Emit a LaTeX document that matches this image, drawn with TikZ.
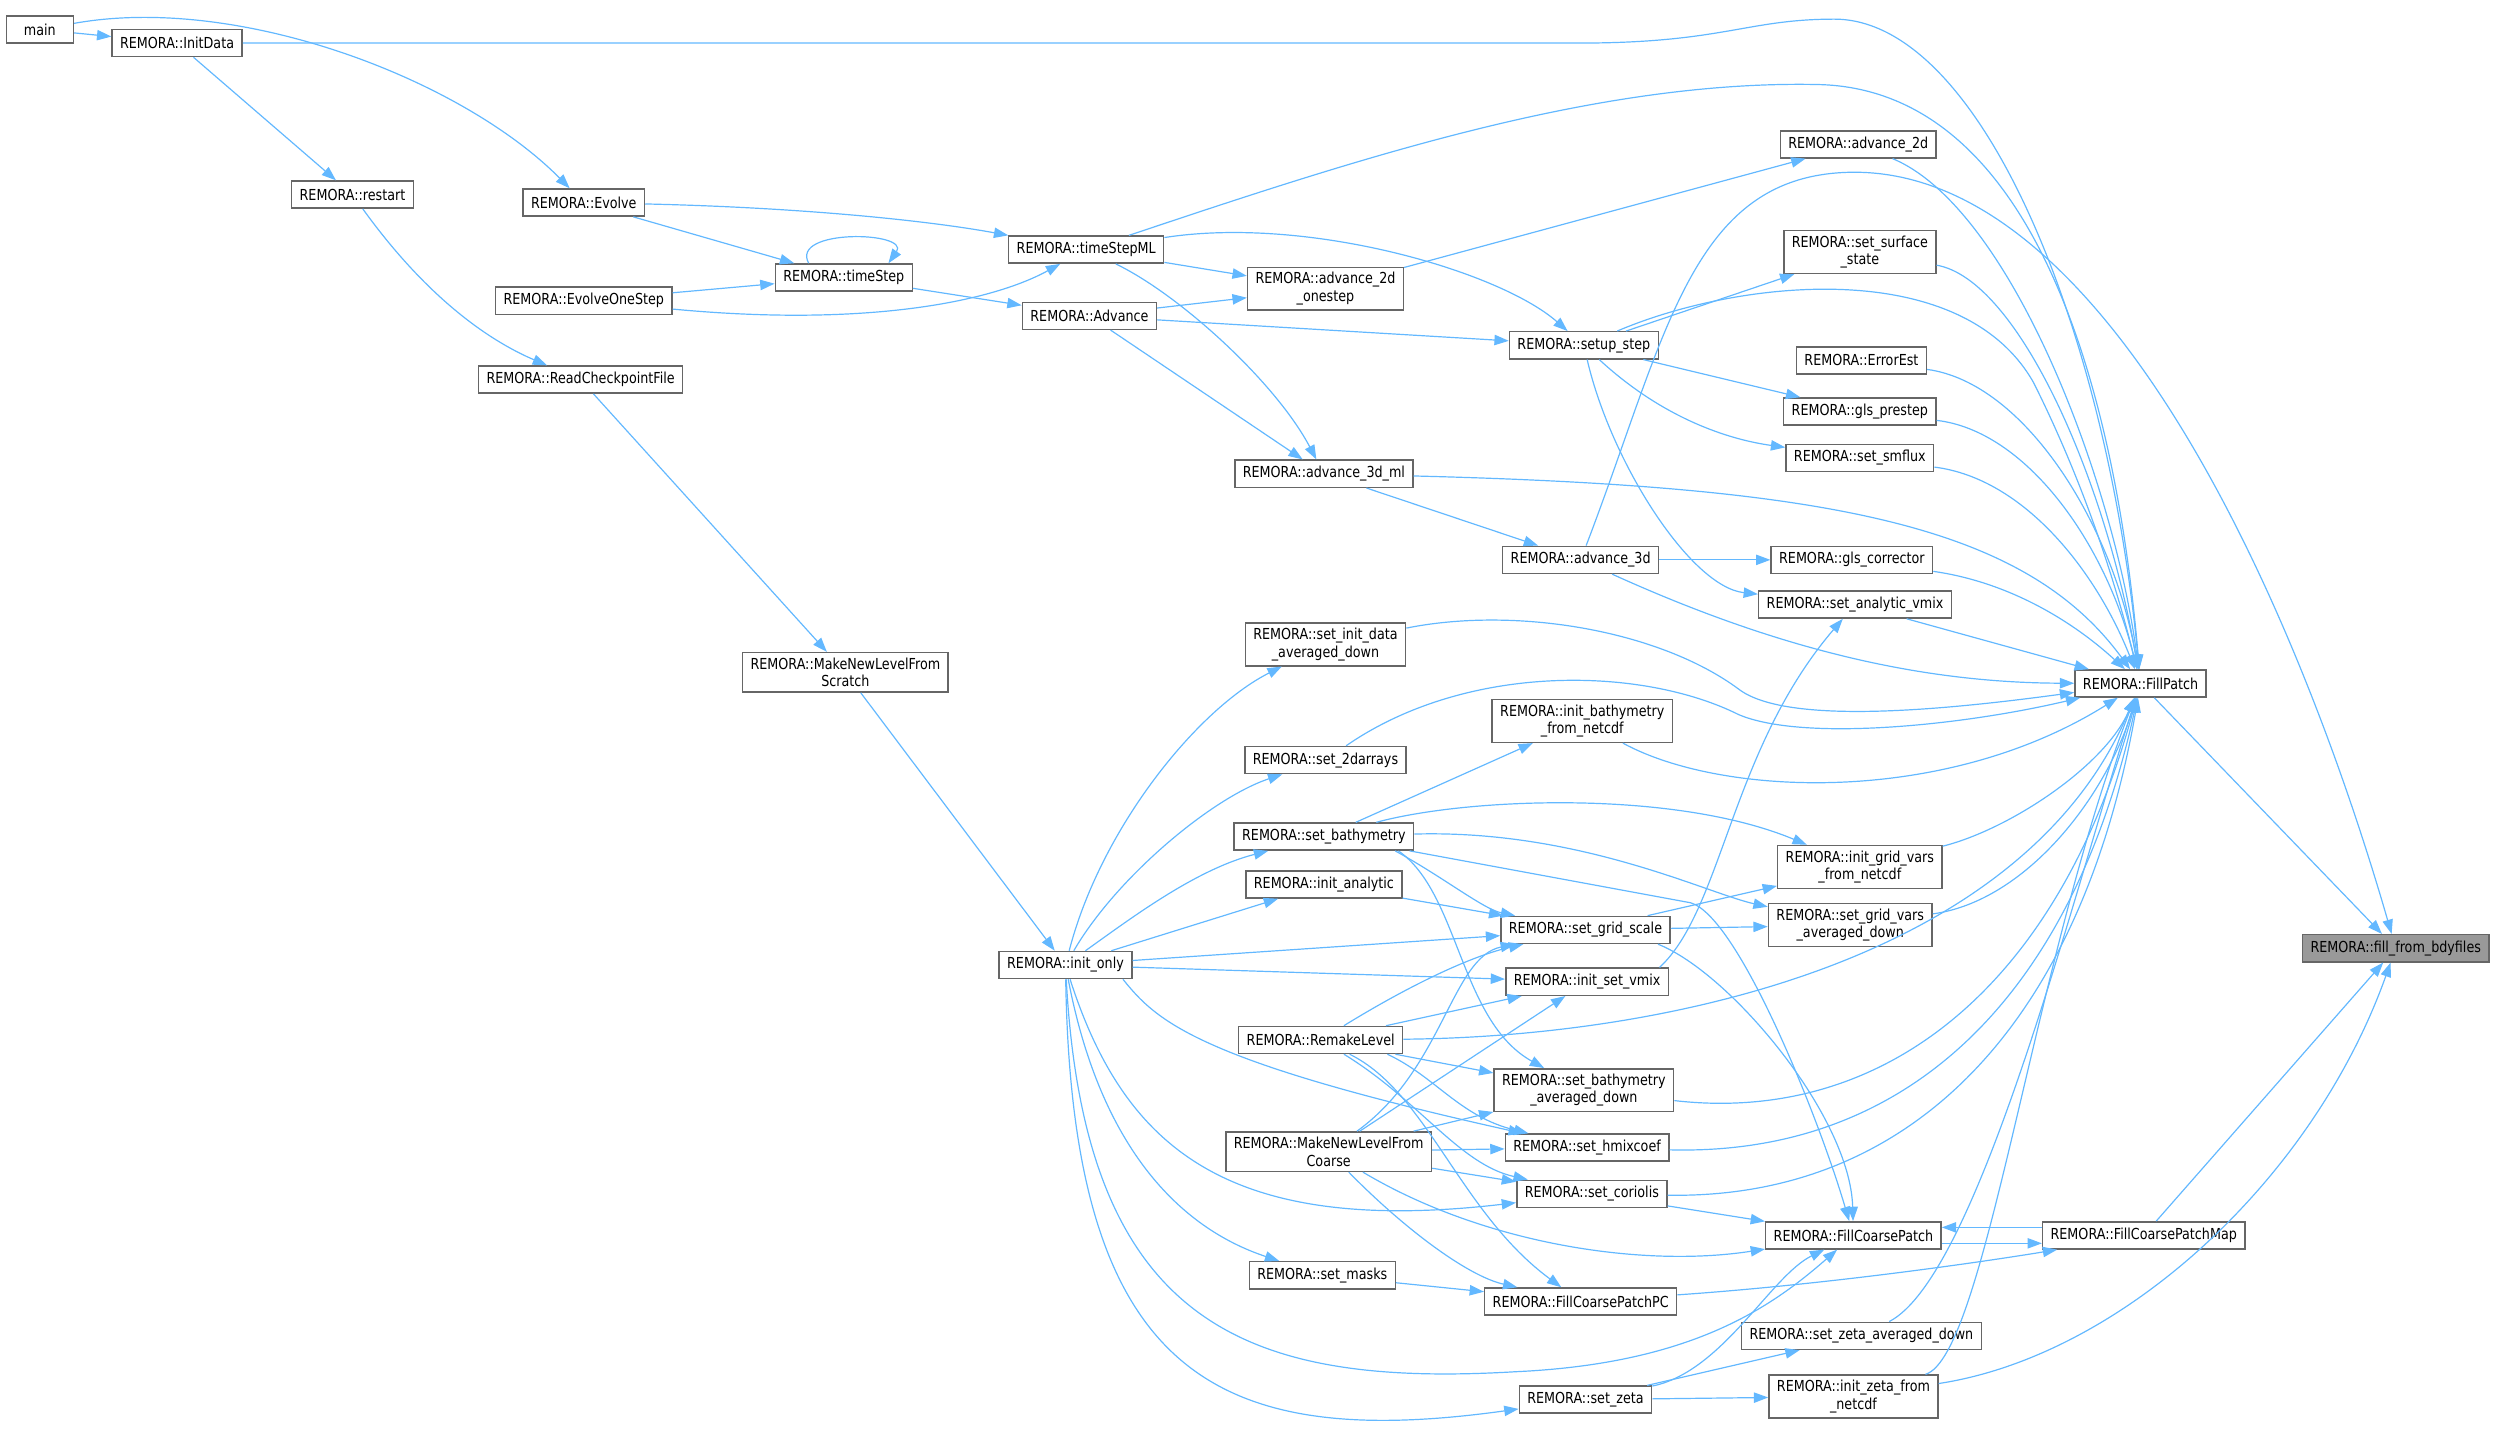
\documentclass[tikz,border=0pt]{standalone}
\usepackage{fontspec}
\setmainfont{DejaVu Sans}[FakeStretch=0.84]
\usetikzlibrary{arrows.meta}
\definecolor{callblue}{HTML}{63B8FF}
\definecolor{boxline}{HTML}{666666}
\definecolor{boxsel}{HTML}{999999}

\begin{document}
\begin{tikzpicture}
    [
    x=1pt, y=-1pt,
    fn/.style={rectangle,draw=boxline,fill=white,line width=0.9pt,font=\fontsize{9.5}{11}\selectfont,align=center,inner xsep=5pt,inner ysep=3.2pt,minimum height=17pt,minimum width=42pt},
    fnsel/.style={fn,fill=boxsel},
    call/.style={-{Triangle[length=9pt,width=6.5pt]},draw=callblue,line width=0.75pt}
    ]
\useasboundingbox (0,0) rectangle (1568,897);
\node[fn] (main) at (25,18.5) {main};
\node[fn] (initdata) at (111,27) {REMORA::InitData};
\node[fn] (restart) at (221,122) {REMORA::restart};
\node[fn] (evolve) at (366,127) {REMORA::Evolve};
\node[fn] (evolveone) at (366,188.5) {REMORA::EvolveOneStep};
\node[fn] (readchk) at (364,238) {REMORA::ReadCheckpointFile};
\node[fn] (mknewscratch) at (530,421.5) {REMORA::MakeNewLevelFrom\\Scratch};
\node[fn] (initonly) at (668,605) {REMORA::init\_only};
\node[fn] (timestepml) at (681,156.5) {REMORA::timeStepML};
\node[fn] (timestep) at (529,174) {REMORA::timeStep};
\node[fn] (advance) at (683,198) {REMORA::Advance};
\node[fn] (adv2done) at (831,181) {REMORA::advance\_2d\\\_onestep};
\node[fn] (adv3dml) at (830,297) {REMORA::advance\_3d\_ml};
\node[fn] (adv3d) at (991,351) {REMORA::advance\_3d};
\node[fn] (setupstep) at (993,216.5) {REMORA::setup\_step};
\node[fn] (adv2d) at (1165,90.5) {REMORA::advance\_2d};
\node[fn] (setsurf) at (1166,158) {REMORA::set\_surface\\\_state};
\node[fn] (errorest) at (1167,226) {REMORA::ErrorEst};
\node[fn] (glsprestep) at (1166,258) {REMORA::gls\_prestep};
\node[fn] (setsmflux) at (1166,287) {REMORA::set\_smflux};
\node[fn] (glscorr) at (1161,351) {REMORA::gls\_corrector};
\node[fn] (setanavmix) at (1163,379) {REMORA::set\_analytic\_vmix};
\node[fn] (setinitdata) at (831,404) {REMORA::set\_init\_data\\\_averaged\_down};
\node[fn] (fillpatch) at (1342,428.5) {REMORA::FillPatch};
\node[fn] (initbathy) at (992,452) {REMORA::init\_bathymetry\\\_from\_netcdf};
\node[fn] (set2d) at (831,476.5) {REMORA::set\_2darrays};
\node[fn] (setbathy) at (830,524.5) {REMORA::set\_bathymetry};
\node[fn] (initgridnc) at (1166,543.5) {REMORA::init\_grid\_vars\\\_from\_netcdf};
\node[fn] (initanalytic) at (830,554.5) {REMORA::init\_analytic};
\node[fn] (setgridavg) at (1160,580) {REMORA::set\_grid\_vars\\\_averaged\_down};
\node[fn] (setgridscale) at (994,583) {REMORA::set\_grid\_scale};
\node[fnsel] (fillbdy) at (1502,594.5) {REMORA::fill\_from\_bdyfiles};
\node[fn] (initsetvmix) at (995,615.5) {REMORA::init\_set\_vmix};
\node[fn] (remake) at (828,652) {REMORA::RemakeLevel};
\node[fn] (setbathyavg) at (993,683.5) {REMORA::set\_bathymetry\\\_averaged\_down};
\node[fn] (mknewcoarse) at (833,722) {REMORA::MakeNewLevelFrom\\Coarse};
\node[fn] (sethmix) at (995,719.5) {REMORA::set\_hmixcoef};
\node[fn] (setcoriolis) at (998,748.5) {REMORA::set\_coriolis};
\node[fn] (fcp) at (1162,774.5) {REMORA::FillCoarsePatch};
\node[fn] (fcpmap) at (1344,774.5) {REMORA::FillCoarsePatchMap};
\node[fn] (setmasks) at (829,799.5) {REMORA::set\_masks};
\node[fn] (fcppc) at (991,816) {REMORA::FillCoarsePatchPC};
\node[fn] (setzetaavg) at (1167,837.5) {REMORA::set\_zeta\_averaged\_down};
\node[fn] (initzetanc) at (1162,875.5) {REMORA::init\_zeta\_from\\\_netcdf};
\node[fn] (setzeta) at (994,877.5) {REMORA::set\_zeta};
\draw[call] (main) -- (initdata);
\draw[call] (main) .. controls (150,-4) and (290,50) .. (evolve);
\draw[call] (initdata) -- (restart);
\draw[call] (initdata) -- (990,27) .. controls (1080,27) and (1095,12) .. (1150,12) .. controls (1240,12) and (1320,200) .. (fillpatch);
\draw[call] (restart) .. controls (270,190) and (310,215) .. (readchk);
\draw[call] (readchk) -- (mknewscratch);
\draw[call] (mknewscratch) -- (initonly);
\draw[call] (evolve) .. controls (500,130) and (580,138) .. (timestepml);
\draw[call] (evolve) -- (timestep);
\draw[call] ([xshift=-22pt]timestep.north) .. controls +(-12,-22) and +(14,-20) .. ([xshift=28pt]timestep.north);
\draw[call] (evolveone) -- (timestep);
\draw[call] (evolveone) .. controls (540,205) and (620,190) .. (timestepml);
\draw[call] (timestep) -- (advance);
\draw[call] (timestepml) -- (adv2done);
\draw[call] (timestepml) .. controls (820,135) and (940,170) .. (setupstep);
\draw[call] (timestepml) .. controls (740,185) and (800,240) .. (adv3dml);
\draw[call] (timestepml) .. controls (850,100) and (1000,50) .. (1140,53) .. controls (1270,56) and (1325,230) .. (fillpatch);
\draw[call] (advance) -- (adv2done);
\draw[call] (advance) -- (setupstep);
\draw[call] (advance) -- (adv3dml);
\draw[call] (adv2done) -- (adv2d);
\draw[call] (adv3dml) -- (adv3d);
\draw[call] (adv3dml) .. controls (1150,305) and (1270,330) .. (fillpatch);
\draw[call] (adv3d) -- (glscorr);
\draw[call] (adv3d) .. controls (1110,405) and (1200,428) .. (fillpatch);
\draw[call] (adv3d) .. controls (1045,210) and (1060,110) .. (1160,108) .. controls (1320,105) and (1440,380) .. (fillbdy);
\draw[call] (setupstep) -- (setsurf);
\draw[call] (setupstep) .. controls (1090,175) and (1230,160) .. (1275,240) .. controls (1305,300) and (1325,360) .. (fillpatch);
\draw[call] (setupstep) -- (glsprestep);
\draw[call] (setupstep) .. controls (1040,260) and (1080,275) .. (setsmflux);
\draw[call] (setupstep) .. controls (1010,290) and (1060,368) .. (setanavmix);
\draw[call] (adv2d) .. controls (1260,130) and (1325,300) .. (fillpatch);
\draw[call] (setsurf) .. controls (1265,175) and (1320,300) .. (fillpatch);
\draw[call] (errorest) .. controls (1270,240) and (1325,330) .. (fillpatch);
\draw[call] (glsprestep) .. controls (1270,270) and (1320,340) .. (fillpatch);
\draw[call] (setsmflux) .. controls (1270,300) and (1315,360) .. (fillpatch);
\draw[call] (glscorr) .. controls (1260,365) and (1300,390) .. (fillpatch);
\draw[call] (setanavmix) -- (fillpatch);
\draw[call] ([xshift=-6pt]initsetvmix.north east) .. controls (1080,570) and (1085,470) .. (setanavmix);
\draw[call] (setinitdata) .. controls (950,380) and (1040,395) .. (1090,432) .. controls (1120,455) and (1220,445) .. (fillpatch);
\draw[call] (set2d) .. controls (920,415) and (1030,418) .. (1090,448) .. controls (1130,465) and (1230,455) .. (fillpatch);
\draw[call] (initbathy) .. controls (1080,500) and (1220,505) .. (fillpatch);
\draw[call] (setbathy) -- (initbathy);
\draw[call] (setbathy) .. controls (920,500) and (1050,495) .. (initgridnc);
\draw[call] (setbathy) .. controls (990,520) and (1070,560) .. (setgridavg);
\draw[call] ([xshift=-12pt]setbathy.south east) .. controls (905,550) and (930,570) .. (setgridscale);
\draw[call] ([xshift=-10pt]setbathy.south east) .. controls (915,560) and (915,640) .. (setbathyavg);
\draw[call] ([xshift=-3pt]setbathy.south east) -- (1060,566) .. controls (1090,575) and (1140,700) .. (fcp);
\draw[call] (initanalytic) -- (setgridscale);
\draw[call] (initonly) .. controls (690,520) and (750,445) .. (setinitdata);
\draw[call] (initonly) .. controls (700,550) and (760,500) .. (set2d);
\draw[call] (initonly) .. controls (710,575) and (750,545) .. (setbathy);
\draw[call] (initonly) -- (initanalytic);
\draw[call] (initonly) -- (setgridscale);
\draw[call] (initonly) -- (initsetvmix);
\draw[call] ([xshift=-6pt]initonly.south east) .. controls (725,640) and (750,665) .. (sethmix);
\draw[call] (initonly) .. controls (705,720) and (770,775) .. (setcoriolis);
\draw[call] (initonly) .. controls (690,720) and (740,770) .. (setmasks);
\draw[call] (initonly) .. controls (680,830) and (780,870) .. (950,860) .. controls (1060,855) and (1110,820) .. (fcp);
\draw[call] (initonly) .. controls (672,860) and (760,910) .. (setzeta);
\draw[call] (remake) .. controls (880,620) and (920,600) .. (setgridscale);
\draw[call] (remake) -- (initsetvmix);
\draw[call] (remake) .. controls (1050,650) and (1270,600) .. (fillpatch);
\draw[call] (remake) -- (setbathyavg);
\draw[call] ([xshift=-10pt]remake.south east) .. controls (900,675) and (915,700) .. (sethmix);
\draw[call] (remake) .. controls (890,690) and (915,730) .. (setcoriolis);
\draw[call] (remake) .. controls (895,685) and (915,760) .. (fcppc);
\draw[call] (mknewcoarse) .. controls (905,670) and (910,600) .. (setgridscale);
\draw[call] (mknewcoarse) -- (initsetvmix);
\draw[call] (mknewcoarse) -- (setbathyavg);
\draw[call] (mknewcoarse) -- (sethmix);
\draw[call] (mknewcoarse) -- (setcoriolis);
\draw[call] (mknewcoarse) .. controls (930,780) and (1030,795) .. (fcp);
\draw[call] (mknewcoarse) .. controls (880,770) and (920,800) .. (fcppc);
\draw[call] (setgridscale) -- (initgridnc);
\draw[call] (setgridscale) -- (setgridavg);
\draw[call] ([xshift=-8pt]setgridscale.south east) .. controls (1085,610) and (1160,700) .. (fcp);
\draw[call] (initgridnc) .. controls (1260,520) and (1320,480) .. (fillpatch);
\draw[call] (setgridavg) .. controls (1270,565) and (1320,500) .. (fillpatch);
\draw[call] (setbathyavg) .. controls (1180,705) and (1290,620) .. (fillpatch);
\draw[call] (sethmix) .. controls (1200,725) and (1300,620) .. (fillpatch);
\draw[call] (setcoriolis) .. controls (1200,752) and (1305,640) .. (fillpatch);
\draw[call] (setcoriolis) -- (fcp);
\draw[call] (setmasks) -- (fcppc);
\draw[call] (fcppc) .. controls (1150,805) and (1250,790) .. (fcpmap);
\draw[call] ([yshift=5pt]fcpmap.west) -- ([yshift=5pt]fcp.east);
\draw[call] ([yshift=-5pt]fcp.east) -- ([yshift=-5pt]fcpmap.west);
\draw[call] (fcpmap) -- (fillbdy);
\draw[call] (fillpatch) -- (fillbdy);
\draw[call] (setzeta) -- (setzetaavg);
\draw[call] (setzeta) -- (initzetanc);
\draw[call] (setzeta) .. controls (1080,860) and (1110,800) .. (fcp);
\draw[call] (setzetaavg) .. controls (1240,800) and (1300,560) .. (fillpatch);
\draw[call] (initzetanc) .. controls (1245,850) and (1275,600) .. (fillpatch);
\draw[call] (initzetanc) .. controls (1330,850) and (1450,740) .. (fillbdy);
\end{tikzpicture}
\end{document}
